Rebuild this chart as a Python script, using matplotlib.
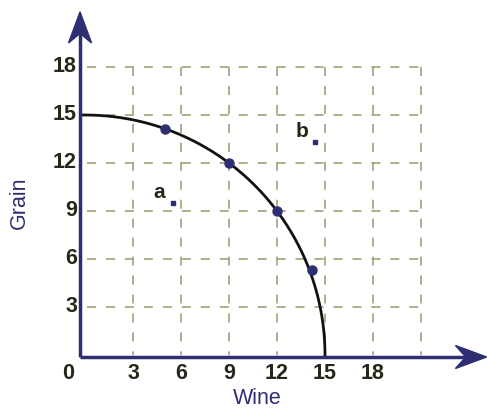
import numpy as np
import matplotlib
matplotlib.use("Agg")
import matplotlib.pyplot as plt
from matplotlib.patches import Polygon

# PPF for wine and grain (quarter circle, radius 15)
radius = 15
curvePtsX = [5, 9, 12, 14.2]
curvePtsY = [14.14, 12, 9, 5.3]
otherPts = {"a": (5.5, 9.5), "b": (14.4, 13.3)}
xticks = [0, 3, 6, 9, 12, 15, 18]
yticks = [3, 6, 9, 12, 15, 18]
gridX = [3, 6, 9, 12, 15, 18, 21]
gridY = [3, 6, 9, 12, 15, 18]

navy = "#2e2f72"
olive = "#a9a880"
txt = "#262619"

plt.rcParams['font.family'] = ['Liberation Sans', 'DejaVu Sans']

fig = plt.figure(figsize=(4.88, 4.09), dpi=100)
ax = fig.add_axes([0, 0, 1, 1])
ax.set_xlim(-5.3125, 25.1875)
ax.set_ylim(-3.375, 22.1875)
ax.axis("off")

# dashed grid
for gx in gridX:
    ax.plot([gx, gx], [18, 0], color=olive, lw=1.3, ls=(0, (5, 5.5)), zorder=1)
for gy in gridY:
    ax.plot([0.1, 21], [gy, gy], color=olive, lw=1.3, ls=(0, (5, 5.5)), zorder=1)

# curve
t = np.linspace(0, np.pi / 2, 200)
cx = np.concatenate([[-0.2], radius * np.cos(t)[::-1]])
cy = np.concatenate([[radius], radius * np.sin(t)[::-1]])
ax.plot(cx, cy, color="#111111", lw=2.0, zorder=3)
ax.plot(curvePtsX, curvePtsY, "o", color=navy, ms=6.5, zorder=4)

for lab, (px, py) in otherPts.items():
    ax.plot(px, py, "s", color=navy, ms=3.5, zorder=4)
    ax.text(px - 0.85, py + 0.05, lab, fontsize=15, color=txt,
            ha="center", va="bottom", fontweight="bold")

# axes with arrowheads
x0 = -0.31
y0 = -0.125
ax.plot([x0, x0], [y0, 20.2], color=navy, lw=2.5, zorder=5, solid_capstyle="butt")
ax.plot([x0, 24.2], [y0, y0], color=navy, lw=2.5, zorder=5, solid_capstyle="butt")
ax.add_patch(Polygon([[x0, 21.45], [x0 - 0.72, 19.5], [x0, 20.1], [x0 + 0.72, 19.5]],
                     closed=True, color=navy, zorder=6))
ax.add_patch(Polygon([[25.1, y0], [23.15, y0 + 0.72], [23.8, y0], [23.15, y0 - 0.72]],
                     closed=True, color=navy, zorder=6))

# tick labels
for xt in xticks:
    xp = -1.05 if xt == 0 else xt
    ax.text(xp, -1.13, str(xt), fontsize=15.5, color=txt, ha="center", va="center",
            fontweight="bold")
for yt in yticks:
    ax.text(-0.5, yt, str(yt), fontsize=15.5, color=txt, ha="right", va="center",
            fontweight="bold")

ax.text(10.75, -2.75, "Wine", fontsize=15.5, color=navy, ha="center", va="center")
ax.text(-4.1, 9.5, "Grain", fontsize=15.5, color=navy, ha="center", va="center",
        rotation=90)

fig.savefig("out.png", dpi=100)
